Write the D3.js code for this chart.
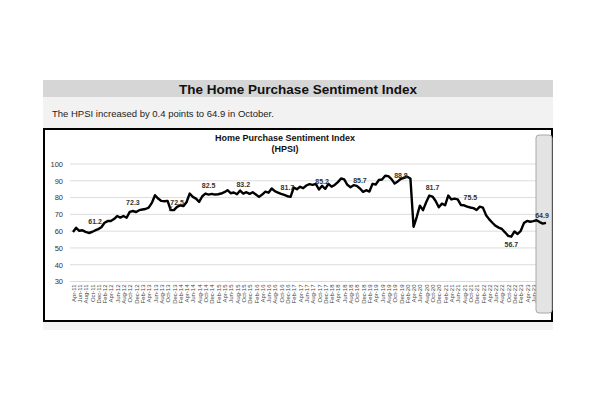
<!DOCTYPE html>
<html>
<head>
<meta charset="utf-8">
<script src="https://cdnjs.cloudflare.com/ajax/libs/d3/7.8.5/d3.min.js"></script>
<style>
body{margin:0;background:#fff;}
svg{font-family:"Liberation Sans",Arial,sans-serif;}
</style>
</head>
<body>
<script>
// HPSI monthly values, Apr-11 .. Oct-23
var hpsi = [
  59.5,62.0,60.2,60.5,59.6,58.9,59.5,60.4,61.2,62.3,
  65.0,66.0,66.0,67.2,69.0,68.1,69.0,68.0,71.5,72.0,
  71.4,72.5,72.9,73.2,74.0,76.8,81.4,79.4,78.0,77.8,
  78.0,72.5,72.5,74.5,75.4,74.9,77.2,82.4,80.4,79.4,
  77.4,80.8,82.4,81.8,82.2,81.8,82.0,82.4,83.2,84.4,
  82.6,83.0,82.0,84.2,82.4,83.2,82.2,83.2,81.8,80.4,
  81.8,83.5,82.9,85.4,83.8,83.0,82.2,81.6,80.8,80.4,
  86.0,85.0,86.4,85.6,87.2,88.0,87.6,88.2,84.8,87.0,
  85.2,88.2,86.5,87.5,89.2,91.4,90.8,87.6,86.2,87.4,
  87.0,85.4,83.4,84.4,83.6,88.2,87.8,90.5,90.8,93.0,
  92.8,91.0,88.4,89.6,91.2,91.8,92.4,91.4,62.6,68.4,
  75.2,72.5,77.2,81.2,80.6,78.0,74.2,76.4,75.4,81.2,
  78.9,79.4,78.9,75.6,75.4,74.6,74.1,73.7,72.6,74.6,
  74.0,69.5,67.0,65.0,63.2,62.1,61.3,59.3,57.2,56.7,
  59.8,58.3,60.2,64.8,66.1,65.6,66.0,66.5,65.4,64.5,
  64.9
];
var months = d3.timeMonth.range(new Date(2011,3,1), new Date(2023,10,1));
var monthLabels = months.map(d3.timeFormat("%b-%y"));
var yTicks = [30,40,50,60,70,80,90,100];

var noteMonths = ["Nov-11","Nov-12","Jan-14","Nov-14","Oct-15","Dec-16","Nov-17","Nov-18","Dec-19","Oct-20","Oct-21","Nov-22","Oct-23"];
var noteTexts  = ["61.2","72.3","72.5","82.5","83.2","81.7","85.2","85.7","88.8","81.7","75.5","56.7","64.9"];
var noteSide   = ["up","up","up","up","up","up","up","up","up","up","up","down","up"];

var headTitle = "The Home Purchase Sentiment Index";
var headText = "The HPSI increased by 0.4 points to 64.9 in October.";
var chartTitle = ["Home Purchase Sentiment Index","(HPSI)"];

var svg = d3.select("body").append("svg").attr("width",600).attr("height",399);

// page frame
svg.append("rect").attr("x",43).attr("y",80).attr("width",510).attr("height",17).attr("fill","#d6d6d6");
svg.append("text").attr("x",298).attr("y",93.5).attr("text-anchor","middle")
   .attr("font-size","13.5px").attr("font-weight","bold").attr("fill","#111").text(headTitle);
svg.append("rect").attr("x",43).attr("y",97).attr("width",510).attr("height",31).attr("fill","#f2f2f2");
svg.append("text").attr("x",52).attr("y",116.5).attr("font-size","9.5px").attr("fill","#222").text(headText);
svg.append("rect").attr("x",43).attr("y",321).attr("width",510).attr("height",9).attr("fill","#f2f2f2");
svg.append("rect").attr("x",44).attr("y",129).attr("width",508).attr("height",192)
   .attr("fill","#fff").attr("stroke","#000").attr("stroke-width",2);

svg.selectAll(".ctitle").data(chartTitle).enter().append("text")
   .attr("x",285).attr("y",function(d,i){ return 140.5 + i*11.5; })
   .attr("text-anchor","middle").attr("font-size","9px").attr("font-weight","bold").attr("fill","#111")
   .text(function(d){ return d; });

var x = d3.scaleLinear().domain([0,hpsi.length-1]).range([73,546]);
var y = d3.scaleLinear().domain([30,100]).range([281.5,164]);

// grid
svg.selectAll(".grid").data(yTicks).enter().append("line")
   .attr("x1",70).attr("x2",540)
   .attr("y1",function(d){ return y(d); }).attr("y2",function(d){ return y(d); })
   .attr("stroke","#dcdcdc").attr("stroke-width",1);

var yAxis = d3.axisLeft(y).tickValues(yTicks).tickSize(0).tickPadding(7);
var yg = svg.append("g").attr("transform","translate(70,0)").call(yAxis);
yg.select(".domain").remove();
yg.selectAll("text").attr("font-size","7.5px").attr("fill","#333").attr("font-family",null);

var xAxis = d3.axisBottom(x).tickValues(d3.range(0,hpsi.length,2))
   .tickFormat(function(i){ return monthLabels[i]; }).tickSize(0);
var xg = svg.append("g").attr("transform","translate(0,"+y(30)+")").call(xAxis);
xg.select(".domain").remove();
xg.selectAll("text").attr("transform","rotate(-90)").attr("text-anchor","end")
   .attr("x",-3).attr("y",0).attr("dy","0.35em")
   .attr("font-size","6px").attr("fill","#444").attr("font-family",null);

// highlight box over the latest month
var last = hpsi.length-1;
svg.append("rect").attr("x",x(last)-10).attr("y",135).attr("width",16).attr("height",178)
   .attr("rx",3).attr("fill","#e4e4e4").attr("stroke","#a8a8a8").attr("stroke-width",1);

var line = d3.line()
   .x(function(d,i){ return x(i); })
   .y(function(d){ return y(d); });
svg.append("path").attr("fill","none").attr("stroke","#000").attr("stroke-width",2.4)
   .attr("stroke-linejoin","round").attr("d",line(hpsi));

// data notes
svg.selectAll(".note").data(noteTexts).enter().append("text")
   .attr("x",function(d,i){ var k = monthLabels.indexOf(noteMonths[i]); return x(k) - (k==last ? 4 : 0); })
   .attr("y",function(d,i){ return noteSide[i]=="up" ? y(+d)-5 : y(+d)+10; })
   .attr("text-anchor","middle").attr("font-size","7px").attr("font-weight","bold").attr("fill","#333")
   .text(function(d){ return d; });
var k72 = monthLabels.indexOf("Jan-14");
svg.append("line").attr("x1",x(k72)-5).attr("y1",y(72.5)-4).attr("x2",x(k72)-8).attr("y2",y(72.5)+1)
   .attr("stroke","#333").attr("stroke-width",0.8);
</script>
</body>
</html>
